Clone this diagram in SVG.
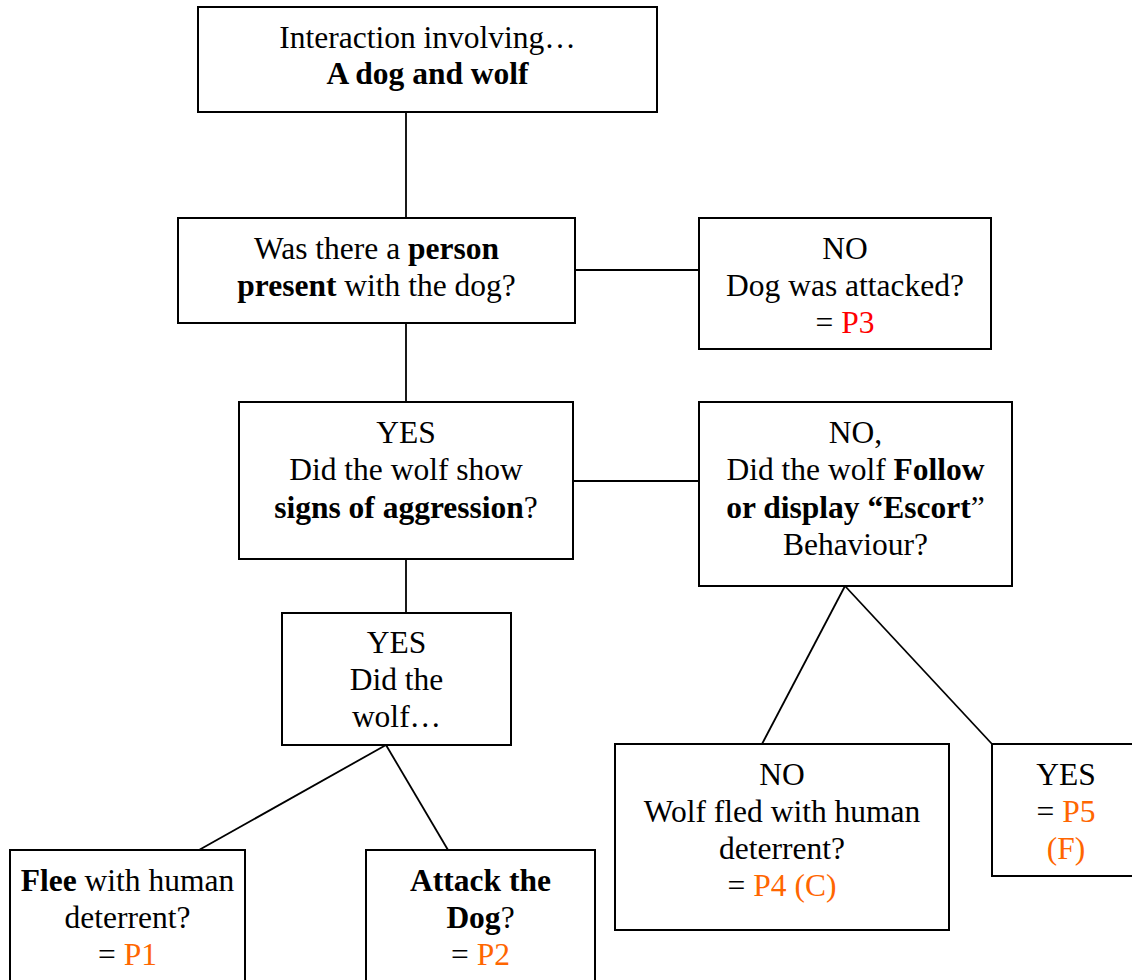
<svg xmlns="http://www.w3.org/2000/svg" width="1132" height="980" viewBox="0 0 1132 980">
<style>
.box{fill:#fff;stroke:#000;stroke-width:2}
.t{font-family:'Liberation Serif','Times New Roman',serif;font-size:31.5px;fill:#000;text-anchor:middle}
.b{font-weight:bold}
.o{fill:#FF6600}
.r{fill:#FF0000}
.c{stroke:#000;stroke-width:1.8;fill:none}
</style>
<rect width="1132" height="980" fill="#fff"/>
<g id="connectors">
<line class="c" x1="406" y1="112" x2="406" y2="218"/>
<line class="c" x1="406" y1="323" x2="406" y2="402"/>
<line class="c" x1="575" y1="270" x2="699" y2="270"/>
<line class="c" x1="573" y1="481" x2="699" y2="481"/>
<line class="c" x1="406" y1="559" x2="406" y2="613"/>
<line class="c" x1="386" y1="745" x2="199" y2="850"/>
<line class="c" x1="386" y1="745" x2="448" y2="850"/>
<line class="c" x1="845" y1="586" x2="762" y2="744"/>
<line class="c" x1="845" y1="586" x2="992" y2="744"/>
</g>
<g font-family="Liberation Serif">
<g id="n-start">
<rect class="box" x="198" y="7" width="459" height="105"/>
<text class="t" x="427.5" y="48">Interaction involving…</text>
<text class="t b" x="427.5" y="84">A dog and wolf</text>
</g>
<g id="n-person">
<rect class="box" x="178" y="218" width="397" height="105"/>
<text class="t" x="376.5" y="259">Was there a <tspan class="b">person</tspan></text>
<text class="t" x="376.5" y="296"><tspan class="b">present</tspan> with the dog?</text>
</g>
<g id="n-p3">
<rect class="box" x="699" y="218" width="292" height="131"/>
<text class="t" x="845" y="259">NO</text>
<text class="t" x="845" y="296">Dog was attacked?</text>
<text class="t" x="845" y="333">= <tspan class="r">P3</tspan></text>
</g>
<g id="n-aggression">
<rect class="box" x="239" y="402" width="334" height="157"/>
<text class="t" x="406" y="443">YES</text>
<text class="t" x="406" y="480">Did the wolf show</text>
<text class="t" x="406" y="518"><tspan class="b">signs of aggression</tspan>?</text>
</g>
<g id="n-escort">
<rect class="box" x="699" y="402" width="313" height="184"/>
<text class="t" x="855.5" y="443">NO,</text>
<text class="t" x="855.5" y="480">Did the wolf <tspan class="b">Follow</tspan></text>
<text class="t" x="855.5" y="518"><tspan class="b">or display “Escort</tspan>”</text>
<text class="t" x="855.5" y="555">Behaviour?</text>
</g>
<g id="n-didwolf">
<rect class="box" x="282" y="613" width="229" height="132"/>
<text class="t" x="396.5" y="653">YES</text>
<text class="t" x="396.5" y="690">Did the</text>
<text class="t" x="396.5" y="727">wolf…</text>
</g>
<g id="n-p1">
<rect class="box" x="10" y="850" width="235" height="140"/>
<text class="t" x="127.5" y="891"><tspan class="b">Flee</tspan> with human</text>
<text class="t" x="127.5" y="928">deterrent?</text>
<text class="t" x="127.5" y="965">= <tspan class="o">P1</tspan></text>
</g>
<g id="n-p2">
<rect class="box" x="366" y="850" width="229" height="140"/>
<text class="t b" x="480.5" y="891">Attack the</text>
<text class="t" x="480.5" y="928"><tspan class="b">Dog</tspan>?</text>
<text class="t" x="480.5" y="965">= <tspan class="o">P2</tspan></text>
</g>
<g id="n-p4">
<rect class="box" x="615" y="744" width="334" height="186"/>
<text class="t" x="782" y="785">NO</text>
<text class="t" x="782" y="822">Wolf fled with human</text>
<text class="t" x="782" y="859">deterrent?</text>
<text class="t" x="782" y="896">= <tspan class="o">P4 (C)</tspan></text>
</g>
<g id="n-p5">
<rect class="box" x="992" y="744" width="150" height="132"/>
<text class="t" x="1066" y="785">YES</text>
<text class="t" x="1066" y="822">= <tspan class="o">P5</tspan></text>
<text class="t o" x="1066" y="859">(F)</text>
</g>
</g>
</svg>
